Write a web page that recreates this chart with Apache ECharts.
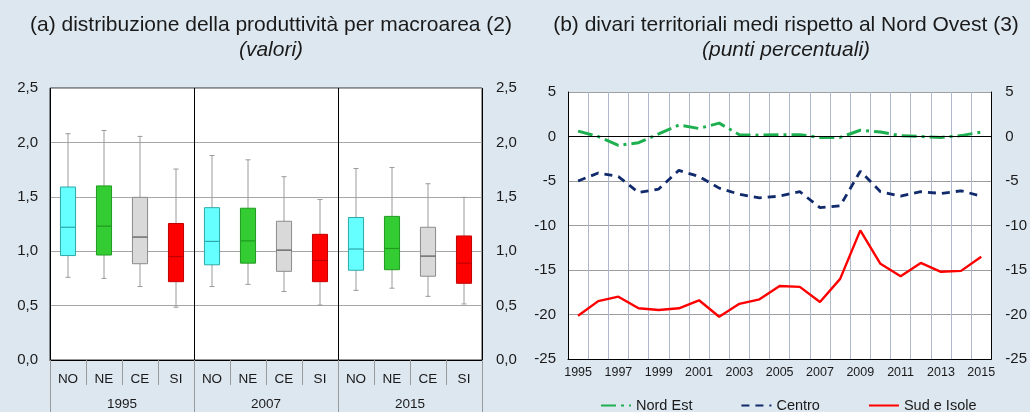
<!DOCTYPE html>
<html>
<head>
<meta charset="utf-8">
<script src="https://cdn.jsdelivr.net/npm/echarts@6/dist/echarts.min.js"></script>
<style>
html,body{margin:0;padding:0;background:#DDE7F0;}
#c{width:1030px;height:412px;}
</style>
</head>
<body>
<div id="c"></div>
<script>
// ---- Panel (a): box plots ----
const areas = ['NO','NE','CE','SI','NO','NE','CE','SI','NO','NE','CE','SI'];
const boxYears = ['1995','2007','2015'];
const whiskerLow  = [0.76, 0.75, 0.675, 0.485, 0.675, 0.695, 0.63, 0.505, 0.64, 0.66, 0.585, 0.515];
const quart1      = [0.96, 0.965, 0.885, 0.72, 0.875, 0.89, 0.815, 0.72, 0.825, 0.83, 0.77, 0.705];
const medianVals  = [1.22, 1.23, 1.13, 0.95, 1.09, 1.095, 1.01, 0.915, 1.02, 1.025, 0.955, 0.89];
const quart3      = [1.59, 1.60, 1.495, 1.255, 1.40, 1.395, 1.275, 1.155, 1.31, 1.32, 1.22, 1.14];
const whiskerHigh = [2.08, 2.11, 2.055, 1.755, 1.88, 1.84, 1.685, 1.475, 1.76, 1.77, 1.62, 1.495];

// ---- Panel (b): territorial gaps ----
const lineYears = ['1995','1996','1997','1998','1999','2000','2001','2002','2003','2004','2005',
                   '2006','2007','2008','2009','2010','2011','2012','2013','2014','2015'];
const nordEst   = [0.6, 0.0, -1.0, -0.7, 0.3, 1.3, 0.9, 1.5, 0.2, 0.15, 0.2, 0.2, -0.1, -0.1, 0.7, 0.5, 0.1, 0.0, -0.1, 0.1, 0.5];
const centro    = [-5.0, -4.1, -4.5, -6.3, -5.9, -3.8, -4.5, -5.8, -6.5, -6.9, -6.7, -6.2, -8.0, -7.8, -3.9, -6.2, -6.7, -6.2, -6.4, -6.1, -6.7];
const sudIsole  = [-20.15, -18.5, -18.0, -19.3, -19.5, -19.3, -18.4, -20.25, -18.8, -18.3, -16.8, -16.9, -18.6, -16.0, -10.55, -14.3, -15.7, -14.2, -15.2, -15.1, -13.5];

const FONT = "'Liberation Sans', Arial, Helvetica, sans-serif";
const fills   = ['#66FFFF', '#33CC33', '#D9D9D9', '#FF0000'];
const borders = ['#2FA8A8', '#1F9A1F', '#8C8C8C', '#C00000'];

const boxData = areas.map((a, i) => [i, whiskerLow[i], quart1[i], medianVals[i], quart3[i], whiskerHigh[i]]);

function renderBox(params, api) {
  const x = api.value(0);
  const lo = api.coord([x, api.value(1)]);
  const b1 = api.coord([x, api.value(2)]);
  const md = api.coord([x, api.value(3)]);
  const b3 = api.coord([x, api.value(4)]);
  const hi = api.coord([x, api.value(5)]);
  const w = api.size([1, 0])[0] * 0.42;
  const k = x % 4;
  const cx = lo[0];
  const gray = {stroke: '#9A9A9A', lineWidth: 1};
  return {
    type: 'group',
    children: [
      {type: 'line', shape: {x1: cx, y1: hi[1], x2: cx, y2: lo[1]}, style: gray},
      {type: 'line', shape: {x1: cx - 2.5, y1: hi[1], x2: cx + 2.5, y2: hi[1]}, style: gray},
      {type: 'line', shape: {x1: cx - 2.5, y1: lo[1], x2: cx + 2.5, y2: lo[1]}, style: gray},
      {type: 'rect', shape: {x: cx - w / 2, y: b3[1], width: w, height: b1[1] - b3[1]},
        style: {fill: fills[k], stroke: borders[k], lineWidth: 1}},
      {type: 'line', shape: {x1: cx - w / 2, y1: md[1], x2: cx + w / 2, y2: md[1]},
        style: {stroke: k === 2 ? '#555555' : borders[k], lineWidth: 1.2}}
    ]
  };
}

const txt = {fontFamily: FONT, color: '#1a1a1a', fontSize: 13.5};
const ytxt = {fontFamily: FONT, color: '#1a1a1a', fontSize: 15};

const option = {
  backgroundColor: '#DDE7F0',
  animation: false,
  title: [
    {text: '(a) distribuzione della produttività per macroarea (2)', subtext: '(valori)',
     left: 266, textAlign: 'center', top: 10, itemGap: 4,
     textStyle: {fontFamily: FONT, fontSize: 21, fontWeight: 'normal', color: '#1a1a1a'},
     subtextStyle: {fontFamily: FONT, fontSize: 21, fontStyle: 'italic', color: '#1a1a1a'}},
    {text: '(b) divari territoriali medi rispetto al Nord Ovest (3)', subtext: '(punti percentuali)',
     left: 781, textAlign: 'center', top: 10, itemGap: 4,
     textStyle: {fontFamily: FONT, fontSize: 21, fontWeight: 'normal', color: '#1a1a1a'},
     subtextStyle: {fontFamily: FONT, fontSize: 21, fontStyle: 'italic', color: '#1a1a1a'}}
  ],
  legend: {
    data: ['Nord Est', 'Centro', 'Sud e Isole'],
    left: 595, top: 393, itemWidth: 30, itemHeight: 10, itemGap: 48,
    itemStyle: {opacity: 0},
    textStyle: {fontFamily: FONT, color: '#1a1a1a', fontSize: 14.5}
  },
  grid: [
    {left: 50, right: 548, top: 88, bottom: 52, show: true, backgroundColor: '#FFFFFF', borderColor: '#333333', borderWidth: 1},
    {left: 568, right: 38, top: 92, bottom: 53, show: true, backgroundColor: '#FFFFFF', borderWidth: 0}
  ],
  xAxis: [
    {type: 'category', gridIndex: 0, data: areas,
     axisLine: {show: true, lineStyle: {color: '#000', width: 1}},
     axisTick: {show: true, length: 25, interval: 0, lineStyle: {color: '#9A9A9A'}},
     axisLabel: {interval: 0, margin: 12, ...txt},
     splitLine: {show: false}},
    {type: 'category', gridIndex: 0, data: boxYears, position: 'bottom',
     axisLine: {show: false},
     axisTick: {show: true, length: 52, interval: 0, lineStyle: {color: '#9A9A9A'}},
     axisLabel: {interval: 0, margin: 37, ...txt},
     splitLine: {show: true, interval: 0, lineStyle: {color: '#000', width: 1}}},
    {type: 'category', gridIndex: 1, data: lineYears,
     axisLine: {show: true, onZero: false, lineStyle: {color: '#000', width: 1}},
     axisTick: {show: false},
     axisLabel: {interval: 1, margin: 7, ...txt, fontSize: 12.5},
     splitLine: {show: true, interval: 0, lineStyle: {color: '#AEB9D0', width: 1}}}
  ],
  yAxis: [
    {type: 'value', gridIndex: 0, min: 0, max: 2.5, interval: 0.5, position: 'left',
     axisLine: {show: false}, axisTick: {show: false},
     axisLabel: {margin: 12, ...ytxt, formatter: v => v.toFixed(1).replace('.', ',')},
     splitLine: {show: true, lineStyle: {color: '#A6A6A6', width: 1}}},
    {type: 'value', gridIndex: 0, min: 0, max: 2.5, interval: 0.5, position: 'right',
     axisLine: {show: false}, axisTick: {show: false},
     axisLabel: {margin: 14, ...ytxt, formatter: v => v.toFixed(1).replace('.', ',')},
     splitLine: {show: false}},
    {type: 'value', gridIndex: 1, min: -25, max: 5, interval: 5, position: 'left',
     axisLine: {show: true, lineStyle: {color: '#000'}}, axisTick: {show: false},
     axisLabel: {margin: 12, ...ytxt},
     splitLine: {show: true, lineStyle: {color: '#9E9E9E', width: 1}}},
    {type: 'value', gridIndex: 1, min: -25, max: 5, interval: 5, position: 'right',
     axisLine: {show: true, lineStyle: {color: '#000'}}, axisTick: {show: false},
     axisLabel: {margin: 14, ...ytxt},
     splitLine: {show: false}}
  ],
  series: [
    {type: 'custom', xAxisIndex: 0, yAxisIndex: 0, renderItem: renderBox,
     encode: {x: 0, y: [1, 2, 3, 4, 5]}, data: boxData, z: 3},
    {name: 'Nord Est', type: 'line', xAxisIndex: 2, yAxisIndex: 2, data: nordEst,
     symbol: 'none', color: '#1EB050',
     lineStyle: {color: '#1EB050', width: 3, type: [15, 5, 3, 5]}, z: 4,
     markLine: {silent: true, symbol: 'none', label: {show: false},
       lineStyle: {color: '#000', width: 1, type: 'solid'}, data: [{yAxis: 0}]}},
    {name: 'Centro', type: 'line', xAxisIndex: 2, yAxisIndex: 2, data: centro,
     symbol: 'none', color: '#102A6B',
     lineStyle: {color: '#102A6B', width: 2.8, type: [8, 6]}, z: 4},
    {name: 'Sud e Isole', type: 'line', xAxisIndex: 2, yAxisIndex: 2, data: sudIsole,
     symbol: 'none', color: '#FF0000',
     lineStyle: {color: '#FF0000', width: 2.4, type: 'solid'}, z: 4}
  ]
};

const chart = echarts.init(document.getElementById('c'), null, {renderer: 'canvas'});
chart.setOption(option);
</script>
</body>
</html>
